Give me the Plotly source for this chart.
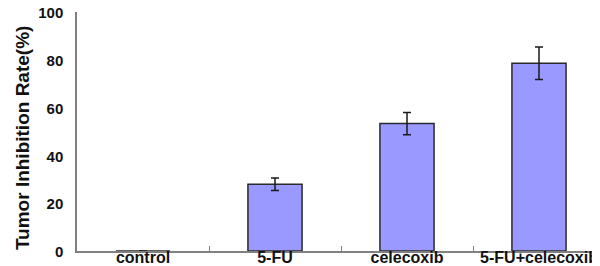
import plotly.graph_objects as go

categories = ["control", "5-FU", "celecoxib", "5-FU+celecoxib"]
values = [0, 27.9, 53.3, 78.6]
errors = [0, 2.6, 4.7, 6.8]
y_ticks = [0, 20, 40, 60, 80, 100]
y_title = "Tumor Inhibition Rate(%)"

font_family = "Liberation Sans, Arial, sans-serif"

fig = go.Figure(
    go.Bar(
        x=categories,
        y=values,
        marker=dict(color="#9999ff", line=dict(color="#2a2a2a", width=1.5)),
        error_y=dict(type="data", array=errors, visible=True,
                     color="#1a1a1a", thickness=1.5, width=4),
        width=0.41,
    )
)

fig.update_layout(
    width=600, height=266,
    margin=dict(l=69, r=3, t=4, b=23, autoexpand=False),
    paper_bgcolor="white", plot_bgcolor="white",
    showlegend=False,
    font=dict(family=font_family, size=14, color="#111111", weight="bold"),
    annotations=[dict(
        text=y_title, textangle=-90, showarrow=False,
        xref="paper", yref="paper", x=-0.102, y=0.473,
        xanchor="center", yanchor="middle",
        font=dict(family=font_family, size=19, weight="bold", color="#111111"),
    )],
)
fig.update_xaxes(
    type="category", automargin=False, tickangle=0,
    showline=True, linecolor="#808080", linewidth=1.5,
    ticks="inside", tickson="boundaries", ticklen=5, tickcolor="#808080", tickwidth=1,
    showgrid=False, zeroline=False,
    tickfont=dict(family=font_family, size=16, weight="bold", color="#111111"),
    ticklabelstandoff=-9,
)
fig.update_yaxes(
    range=[0, 100], tickvals=y_ticks, automargin=False,
    showline=True, linecolor="#808080", linewidth=1.5,
    ticks="", showgrid=False, zeroline=False,
    ticklabeloverflow="allow", ticklabelshift=1, ticklabelstandoff=9,
    tickfont=dict(family=font_family, size=15, weight="bold", color="#111111"),
)

fig.write_html("out.html")
